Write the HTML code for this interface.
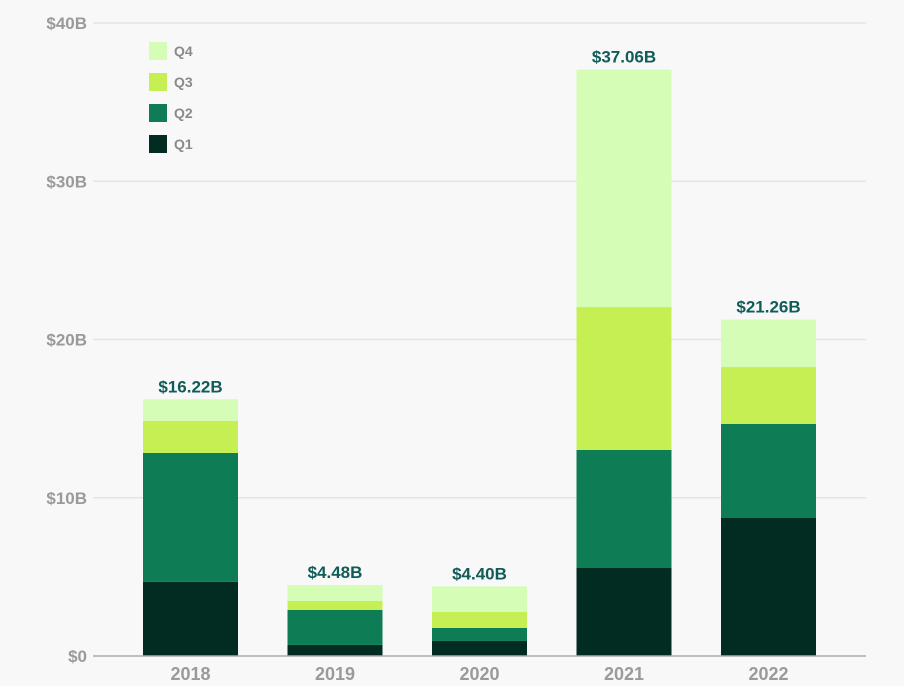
<!DOCTYPE html>
<html><head><meta charset="utf-8"><style>
html,body{margin:0;padding:0;background:#f8f8f8;}
svg{display:block;font-family:"Liberation Sans",sans-serif;}
</style></head><body>
<svg id="chart" width="904" height="686"></svg>
<script>
const years=["2018","2019","2020","2021","2022"];
const q1=[4.68,0.70,0.95,5.56,8.72];
const q2=[8.15,2.21,0.82,7.46,5.94];
const q3=[2.02,0.57,1.01,9.03,3.60];
const q4=[1.37,1.00,1.62,15.01,3.00];
const totalLabels=["$16.22B","$4.48B","$4.40B","$37.06B","$21.26B"];
const yTicks=[0,10,20,30,40];
const yTickLabels=["$0","$10B","$20B","$30B","$40B"];

const NS="http://www.w3.org/2000/svg";
const svg=document.getElementById('chart');
const y0=656,yTop=23,yMax=40;
const yScale=v=>y0-(v/yMax)*(y0-yTop);
const xCenter=i=>190.5+i*144.5;
const barW=95;
function mk(tag,attrs,parent){const e=document.createElementNS(NS,tag);for(const k in attrs)e.setAttribute(k,attrs[k]);(parent||svg).appendChild(e);return e;}

yTicks.forEach((t,i)=>{
  const y=yScale(t);
  if(t>0){const g=mk('line',{x1:93,x2:866,y1:y,y2:y,stroke:'#e4e4e4','stroke-width':1.5});
  
  }
  const l=mk('text',{x:87,y:y+6,'text-anchor':'end','font-size':17,'font-weight':'bold',fill:'#9a9a9a'});
  l.textContent=yTickLabels[i];
  
  
});

const series=[q1,q2,q3,q4];
const colors=["#022b22","#0e7c55","#c5ef53","#d5fdb5"];
const names=["q1","q2","q3","q4"];
years.forEach((yr,i)=>{
  let cum=0;
  series.forEach((s,k)=>{
    const top=yScale(cum+s[i]),bot=yScale(cum);
    const r=mk('rect',{x:xCenter(i)-barW/2,y:top,width:barW,height:bot-top,fill:colors[k]});
    
    
    cum+=s[i];
  });
  const t=mk('text',{x:xCenter(i),y:yScale(cum)-7,'text-anchor':'middle','font-size':17,'font-weight':'bold',fill:'#0f5c58'});
  t.textContent=totalLabels[i];
  
  
  const xl=mk('text',{x:xCenter(i),y:y0+24,'text-anchor':'middle','font-size':18,'font-weight':'bold',fill:'#9a9a9a'});
  xl.textContent=yr;
  
  
});
const ax=mk('line',{x1:93,x2:866,y1:y0,y2:y0,stroke:'#aaaaaa','stroke-width':1.5});



const legendItems=["Q4","Q3","Q2","Q1"];
const legendColors=["#d5fdb5","#c5ef53","#0e7c55","#022b22"];
legendItems.forEach((n,i)=>{
  const y=42+i*31;
  const sw=mk('rect',{x:149,y:y,width:18,height:18,fill:legendColors[i]});
  
  
  const t=mk('text',{x:174,y:y+14,'font-size':14,'font-weight':'bold',fill:'#8a8a8a'});
  t.textContent=n;
  
  
});
</script>
</body></html>
